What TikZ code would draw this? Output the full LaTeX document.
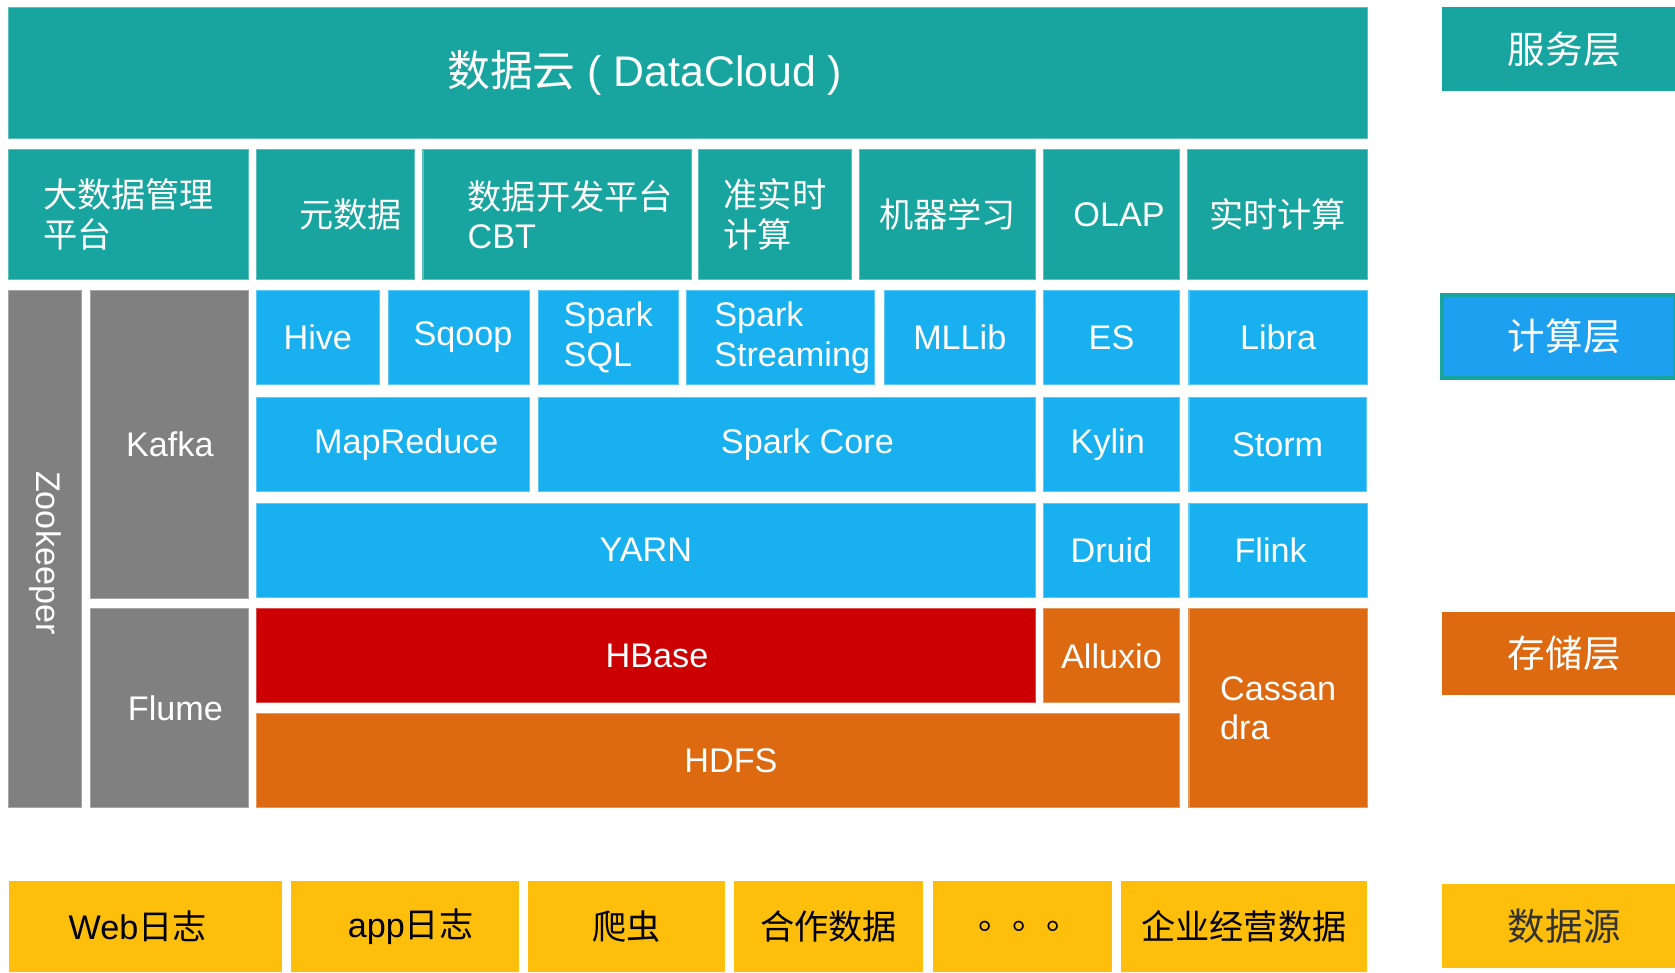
\documentclass[tikz,border=0pt]{standalone}
\usepackage{fontspec}
\setmainfont{Liberation Sans}
\newfontfamily\cjk{Noto Sans CJK SC}

\definecolor{cloudteal}{HTML}{18A5A0}
\definecolor{calcblue}{HTML}{19B0F0}
\definecolor{layerblue}{HTML}{1DA0F0}
\definecolor{opsgray}{HTML}{808080}
\definecolor{hbasered}{HTML}{CC0000}
\definecolor{storeorange}{HTML}{DD6A10}
\definecolor{srcyellow}{HTML}{FDBF0B}

\tikzset{
  cell/.style 2 args={anchor=north west, inner sep=0pt, outer sep=0pt, text=white, align=left,
    line width=0.3pt, minimum width=#1*0.01cm, minimum height=#2*0.01cm,
    font=\fontsize{9.1}{10.6}\selectfont},
  zh/.style={font=\fontsize{9.1}{10.6}\selectfont\cjk},
  tealcell/.style 2 args={cell={#1}{#2}, fill=cloudteal, draw=cloudteal!70!white},
  bluecell/.style 2 args={cell={#1}{#2}, fill=calcblue, draw=calcblue!70!white},
  graycell/.style 2 args={cell={#1}{#2}, fill=opsgray, draw=opsgray!70!white},
  redcell/.style 2 args={cell={#1}{#2}, fill=hbasered, draw=hbasered!70!white},
  orangecell/.style 2 args={cell={#1}{#2}, fill=storeorange, draw=storeorange!70!white},
  yellowcell/.style 2 args={cell={#1}{#2}, fill=srcyellow, text=black},
  layer/.style={anchor=north west, inner sep=0pt, outer sep=0pt, text=white,
    minimum width=2.18cm, minimum height=0.78cm, font=\fontsize{10}{12}\selectfont\cjk}
}

\begin{document}
\begin{tikzpicture}[x=0.01cm, y=-0.01cm]
  \useasboundingbox (0,0) rectangle (1568,910);

  % service layer
  \node[tealcell={1272}{123}, font=\fontsize{11.4}{13}\selectfont] (cloud) at (8,7) {{\cjk 数据云} ( DataCloud )\hspace*{23pt}};
  \node[tealcell={225}{122}, zh] (mgmt) at (8,140) {大数据管理\\平台\hspace*{4pt}};
  \node[tealcell={148}{122}, zh] (meta) at (240,140) {\hspace*{8pt}元数据};
  \node[tealcell={251}{122}] (cbt) at (396,140) {\hspace*{7pt}{\cjk 数据开发平台}\\\hspace*{7pt}CBT};
  \node[tealcell={143}{122}, zh] (nrt) at (654,140) {准实时\\计算};
  \node[tealcell={164}{122}, zh] (ml) at (805,140) {机器学习};
  \node[tealcell={127}{122}] (olap) at (977,140) {\hspace*{4pt}OLAP};
  \node[tealcell={168}{122}, zh] (rt) at (1112,140) {实时计算};

  % collection and coordination
  \node[graycell={68}{484}] (zk) at (8,272) {\rotatebox{-90}{Zookeeper}\\[-3pt]\mbox{}};
  \node[graycell={148}{288}] (kafka) at (85,272) {Kafka};
  \node[graycell={148}{186}] (flume) at (85,570) {\hspace*{3pt}Flume};

  % compute layer
  \node[bluecell={115}{88}] (hive) at (240,272) {Hive};
  \node[bluecell={132}{88}] (sqoop) at (364,272) {\hspace*{2pt}Sqoop};
  \node[bluecell={131}{88}] (sparksql) at (504,272) {Spark\\SQL};
  \node[bluecell={176}{88}] (streaming) at (643,272) {\hspace*{6pt}Spark\\\hspace*{6pt}Streaming};
  \node[bluecell={141}{88}] (mllib) at (828,272) {MLLib};
  \node[bluecell={127}{88}] (es) at (977,272) {ES};
  \node[bluecell={167}{88}] (libra) at (1113,272) {Libra};
  \node[bluecell={256}{88}] (mapreduce) at (240,372) {\hspace*{7pt}MapReduce};
  \node[bluecell={465}{88}] (sparkcore) at (504,372) {\hspace*{11pt}Spark Core};
  \node[bluecell={127}{88}] (kylin) at (977,372) {Kylin\hspace*{2pt}};
  \node[bluecell={166}{88}] (storm) at (1113,372) {Storm};
  \node[bluecell={729}{88}] (yarn) at (240,471) {YARN};
  \node[bluecell={127}{88}] (druid) at (977,471) {Druid};
  \node[bluecell={167}{88}] (flink) at (1113,471) {Flink\hspace*{4pt}};

  % storage layer
  \node[redcell={729}{88}] (hbase) at (240,570) {\hspace*{6pt}HBase};
  \node[orangecell={127}{88}] (alluxio) at (977,570) {Alluxio};
  \node[orangecell={167}{186}] (cassandra) at (1113,570) {Cassan\\dra};
  \node[orangecell={864}{88}] (hdfs) at (240,668) {\hspace*{7pt}HDFS};

  % data sources
  \node[yellowcell={256}{85}] (weblog) at (8,825) {Web{\cjk 日志}\hspace*{4pt}};
  \node[yellowcell={214}{85}] (applog) at (272,825) {\hspace*{3pt}app{\cjk 日志}};
  \node[yellowcell={185}{85}, zh] (crawler) at (494,825) {爬虫};
  \node[yellowcell={177}{85}, zh] (partner) at (687,825) {合作数据};
  \node[yellowcell={168}{85}, zh] (more) at (873,825) {\hspace*{4pt}。。。};
  \node[yellowcell={231}{85}, zh] (biz) at (1049,825) {企业经营数据};

  % layer labels
  \node[layer, fill=cloudteal] (svc) at (1350,7) {\hspace*{3pt}服务层};
  \node[layer, fill=layerblue, draw=cloudteal, line width=1pt] (calc) at (1350,276) {\hspace*{3pt}计算层};
  \node[layer, fill=storeorange] (store) at (1350,573) {\hspace*{3pt}存储层};
  \node[layer, fill=srcyellow, text=black!80] (src) at (1350,828) {\hspace*{3pt}数据源};
\end{tikzpicture}
\end{document}
